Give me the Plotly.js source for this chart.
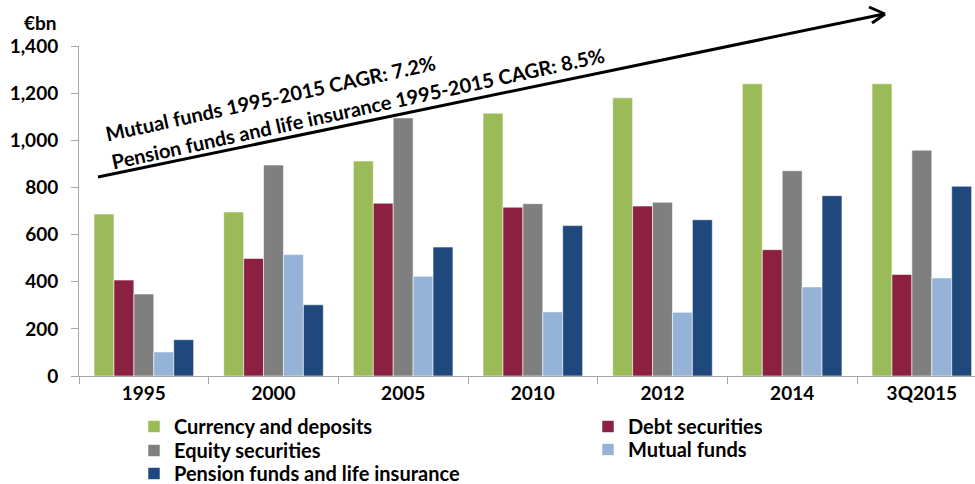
<!DOCTYPE html>
<html><head><meta charset="utf-8">
<script src="https://cdn.plot.ly/plotly-3.0.1.min.js"></script>
<style>body{margin:0;background:#fff}#c{width:975px;height:484px}</style>
</head><body><div id="c"></div>
<script>
const categories = ["1995","2000","2005","2010","2012","2014","3Q2015"];
const currencyDeposits = [687, 696, 912, 1115, 1180, 1240, 1240];
const debtSecurities = [407, 499, 733, 716, 721, 536, 431];
const equitySecurities = [348, 895, 1095, 731, 737, 871, 958];
const mutualFunds = [102, 515, 423, 272, 270, 378, 416];
const pensionFunds = [154, 302, 547, 638, 663, 765, 805];
const yTicks = [0, 200, 400, 600, 800, 1000, 1200, 1400];

const FONT = "Lato, 'Open Sans', sans-serif";

function bar(name, y, color, legend) {
  return {type: "bar", name: "<b>" + name + "</b>", x: categories, y: y, legend: legend,
    marker: {color: color, line: {color: "rgba(255,255,255,0.55)", width: 1}},
    hoverinfo: "skip"};
}
const data = [
  bar("Currency and deposits", currencyDeposits, "#9BBB59", "legend"),
  bar("Debt securities", debtSecurities, "#8C2040", "legend2"),
  bar("Equity securities", equitySecurities, "#7F7F7F", "legend3"),
  bar("Mutual funds", mutualFunds, "#95B3D7", "legend4"),
  bar("Pension funds and life insurance", pensionFunds, "#1F497D", "legend5")
];

const px = v => (v - 79) / 896;
const py = v => 1 - (v - 46) / 330;
const f = s => ({family: FONT, size: s, color: "#000", weight: "bold"});
const leg = (x, top) => ({x: px(x), y: py(top), xanchor: "left", yanchor: "top", orientation: "v",
    itemwidth: 30, font: {family: FONT, size: 20, color: "#000"}, bgcolor: "rgba(0,0,0,0)"});

const layout = {
  width: 975, height: 484,
  margin: {l: 79, r: 0, t: 46, b: 108, autoexpand: false},
  paper_bgcolor: "#fff", plot_bgcolor: "#fff",
  barmode: "group", bargap: 0.232, bargroupgap: 0,
  font: f(17),
  xaxis: {type: "category", range: [-0.5, 6.41], showgrid: false, zeroline: false,
    showline: true, linecolor: "#A6A6A6", linewidth: 1,
    ticks: "outside", tickson: "boundaries", ticklen: 7, tickcolor: "#A6A6A6",
    tickfont: f(19)},
  yaxis: {range: [0, 1400], tickvals: yTicks, tickformat: ",d", showgrid: false, zeroline: false,
    showline: true, linecolor: "#A6A6A6", linewidth: 1,
    ticks: "outside", ticklen: 7, tickcolor: "#A6A6A6", ticklabelstandoff: 9,
    tickfont: f(19)},
  showlegend: true,
  legend: leg(134, 407),
  legend2: leg(588, 407),
  legend3: leg(134, 431),
  legend4: leg(588, 430),
  legend5: leg(134, 454),
  shapes: [
    {type: "line", xref: "paper", yref: "paper", x0: px(98), y0: py(177),
      x1: px(884), y1: py(14), line: {color: "#000", width: 3}},
    {type: "line", xref: "paper", yref: "paper", x0: px(869), y0: py(7),
      x1: px(885), y1: py(14), line: {color: "#000", width: 3}},
    {type: "line", xref: "paper", yref: "paper", x0: px(872), y0: py(23),
      x1: px(885), y1: py(14), line: {color: "#000", width: 3}}
  ],
  annotations: [
    {text: "<b>€bn</b>", xref: "paper", yref: "paper", x: px(40), y: py(23),
      xanchor: "center", yanchor: "middle",
      showarrow: false, font: {family: FONT, size: 19, color: "#000"}},
    {text: "<b>Mutual funds 1995-2015 CAGR: 7.2%</b>", xref: "paper", yref: "paper",
      x: px(270), y: py(98), xanchor: "center", yanchor: "middle", textangle: -12.3, showarrow: false,
      font: {family: FONT, size: 20, color: "#000"}},
    {text: "<b>Pension funds and life insurance 1995-2015 CAGR: 8.5%</b>", xref: "paper", yref: "paper",
      x: px(358), y: py(108), xanchor: "center", yanchor: "middle", textangle: -12.3, showarrow: false,
      font: {family: FONT, size: 20, color: "#000"}}
  ]
};
Plotly.newPlot("c", data, layout, {displayModeBar: false, staticPlot: true});
</script></body></html>
